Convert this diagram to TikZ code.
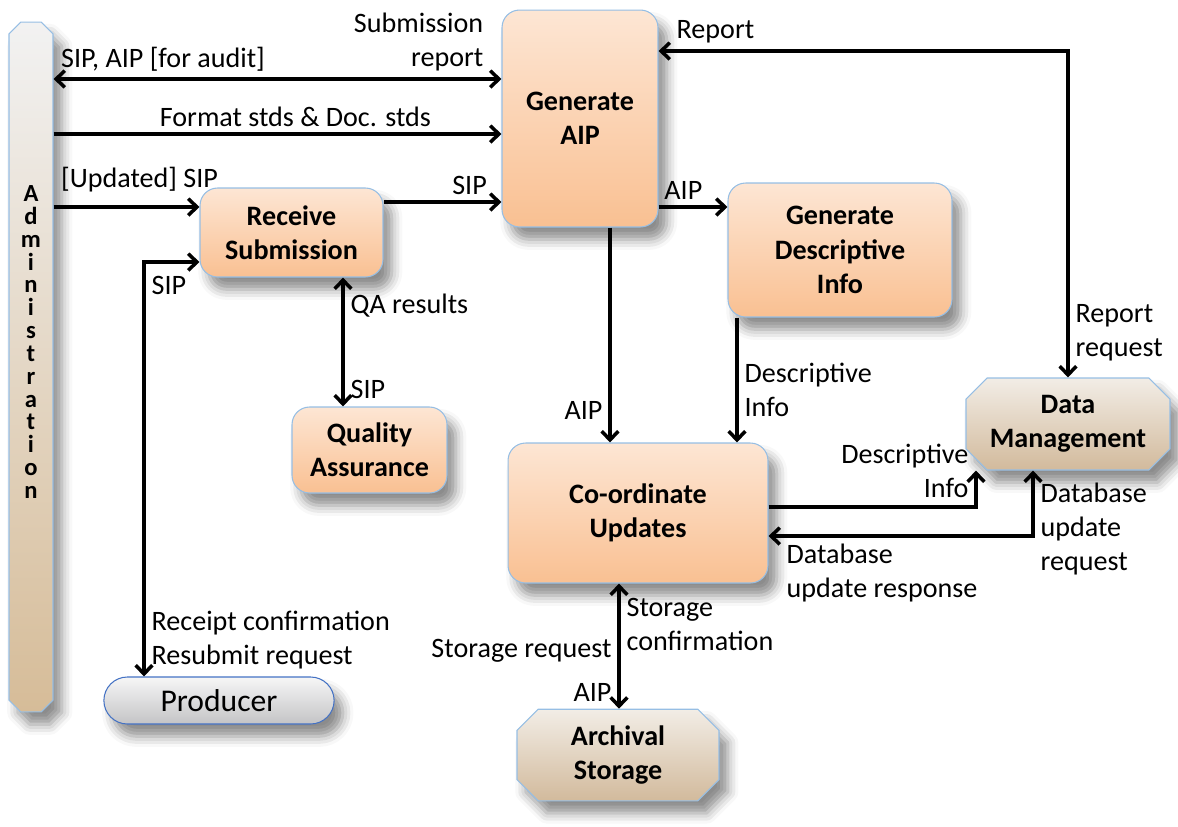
\documentclass[tikz,border=0pt]{standalone}
\usepackage{fontspec}
\setmainfont{Carlito}
\usetikzlibrary{arrows.meta,shapes.misc,shadows,shadows.blur}
\definecolor{edgeblue}{RGB}{150,190,228}
\definecolor{peachA}{RGB}{253,230,212}
\definecolor{peachB}{RGB}{249,192,146}
\definecolor{tanA}{RGB}{242,237,230}
\definecolor{tanB}{RGB}{210,186,156}
\definecolor{admA}{RGB}{242,242,242}
\definecolor{admB}{RGB}{214,188,152}
\definecolor{prodA}{RGB}{246,246,246}
\definecolor{prodB}{RGB}{196,196,198}
\definecolor{prodedge}{RGB}{68,114,196}
\newcommand{\boxfont}{\fontsize{16}{19.5}\selectfont\bfseries}
\newcommand{\lblfont}{\fontsize{16}{19.5}\selectfont}
\newcommand{\admfont}{\fontsize{14}{13}\selectfont\bfseries}

\begin{document}
\begin{tikzpicture}[x=0.02cm, y=-0.02cm,
    >={Straight Barb[length=5pt,width=9.5pt]},
    shadowed/.style={blur shadow={shadow xshift=5pt, shadow yshift=-7pt, shadow blur radius=6pt, shadow opacity=45}},
    proc/.style={draw=edgeblue, line width=0.6pt, rounded corners=10pt, top color=peachA, bottom color=peachB, align=center, font=\boxfont, shadowed},
    ent/.style={chamfered rectangle, chamfered rectangle sep=6pt, draw=edgeblue, line width=0.6pt, top color=tanA, bottom color=tanB, align=center, font=\boxfont, shadowed},
    adminbar/.style={chamfered rectangle, chamfered rectangle sep=6pt, draw=edgeblue, line width=0.6pt, top color=admA, bottom color=admB, minimum width=0.88cm, minimum height=13.8cm, shadowed},
    extbox/.style={rounded rectangle, draw=prodedge, line width=0.6pt, top color=prodA, bottom color=prodB, minimum width=4.84cm, minimum height=0.94cm, font=\fontsize{18}{21}\selectfont, shadowed},
    lbl/.style={font=\lblfont, align=left},
    arr/.style={draw, line width=2pt, ->},
    biarr/.style={draw, line width=2pt, <->}]
  \useasboundingbox (0,0) rectangle (1178,826);
  %nodes
  \node[adminbar] (admin) at (31,367) {};
  \node[font=\admfont, align=center] (admtext) at (31,342) {A\\d\\m\\i\\n\\i\\s\\t\\r\\a\\t\\i\\o\\n};
  \node[proc, minimum width=3.12cm, minimum height=4.34cm] (genaip) at (580,118.5) {Generate\\AIP};
  \node[proc, minimum width=3.66cm, minimum height=1.78cm] (recv) at (291.5,232.5) {Receive\\Submission};
  \node[proc, minimum width=4.48cm, minimum height=2.68cm] (gendesc) at (840,250) {Generate\\Descriptive\\Info};
  \node[proc, minimum width=3.1cm, minimum height=1.72cm] (qa) at (369.5,450) {Quality\\Assurance};
  \node[proc, minimum width=5.2cm, minimum height=2.8cm] (coord) at (638,513) {Co-ordinate\\Updates};
  \node[ent, minimum width=4.08cm, minimum height=1.84cm] (dm) at (1068,424) {Data\\Management};
  \node[ent, minimum width=4.04cm, minimum height=1.8cm] (arch) at (618,755) {Archival\\Storage};
  \node[extbox] (prod) at (219,700.5) {Producer};
  %helper points
  \coordinate (yaudit) at (0,79);
  \coordinate (ystd) at (0,134);
  \coordinate (yupd) at (0,207);
  \coordinate (ysip) at (0,202);
  \coordinate (pbend) at (144,262);
  \coordinate (xqa) at (343,0);
  \coordinate (xaip) at (610,0);
  \coordinate (xdesc) at (737,0);
  \coordinate (xstore) at (619,0);
  \coordinate (rbend) at (1068,51);
  \coordinate (dbend) at (976,507);
  \coordinate (ubend) at (1033,536);
  %edges
  \path[biarr] (admin.east |- yaudit) -- node[lbl, above right, pos=0]{SIP, AIP [for audit]} node[lbl, above left, pos=1, xshift=-6pt, align=right]{Submission\\report} (genaip.west |- yaudit);
  \path[arr] (admin.east |- ystd) -- node[lbl, above, pos=0.54]{Format stds \& Doc. stds} (genaip.west |- ystd);
  \path[arr] (admin.east |- yupd) -- node[lbl, above right, pos=0, yshift=4pt]{[Updated] SIP} (recv.west |- yupd);
  \path[arr] (recv.east |- ysip) -- node[lbl, above left, pos=1, xshift=-4pt]{SIP} (genaip.west |- ysip);
  \path[biarr] (recv.west |- pbend) -- (pbend) -- node[lbl, below right, pos=0, yshift=-4pt]{SIP} node[lbl, above right, pos=1]{Receipt confirmation\\Resubmit request} (pbend |- prod.north);
  \path[biarr] (recv.south -| xqa) -- node[lbl, below right, pos=0, yshift=-5pt]{QA results} node[lbl, above right, pos=1]{SIP} (qa.north -| xqa);
  \path[arr] (genaip.east |- yupd) -- node[lbl, above, pos=0.36]{AIP} (gendesc.west |- yupd);
  \path[arr] (genaip.south -| xaip) -- node[lbl, left, pos=0.85]{AIP} (coord.north -| xaip);
  \path[arr] (gendesc.south -| xdesc) -- node[lbl, right, pos=0.58]{Descriptive\\Info} (coord.north -| xdesc);
  \path[biarr] (genaip.east |- rbend) -- node[lbl, above right, pos=0, xshift=6pt]{Report} (rbend) -- node[lbl, above right, pos=1, yshift=5pt]{Report\\request} (dm.north -| rbend);
  \path[arr] (coord.east |- dbend) -- (dbend) -- node[lbl, left, pos=1, align=right]{Descriptive\\Info} (dbend |- dm.south);
  \path[biarr] (dm.south -| ubend) -- node[lbl, right, pos=1, yshift=4pt]{Database\\update\\request} (ubend) -- node[lbl, below right, pos=1, xshift=6pt]{Database\\update response} (coord.east |- ubend);
  \path[biarr] (coord.south -| xstore) -- node[lbl, below right, pos=0, yshift=-4pt]{Storage\\confirmation} node[lbl, left, pos=0.54]{Storage request} node[lbl, above left, pos=1]{AIP} (arch.north -| xstore);
\end{tikzpicture}
\end{document}
